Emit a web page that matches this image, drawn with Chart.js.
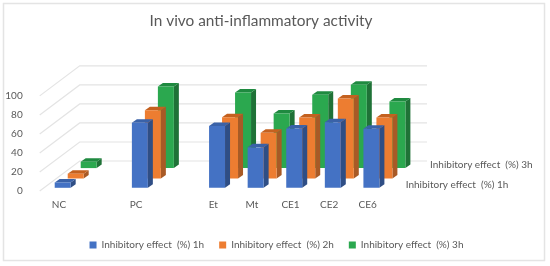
<!DOCTYPE html>
<html><head><meta charset="utf-8">
<style>html,body{margin:0;padding:0;background:#fff}#w{width:550px;height:266px}</style>
<script src="https://cdn.jsdelivr.net/npm/chart.js@4"></script>
</head><body><div id="w"><canvas id="c" width="550" height="266"></canvas></div>
<script>
const categories = ['NC','','PC','','Et','Mt','CE1','CE2','CE6'];
const series1h = [5.6,null,68.4,null,65,42.5,62.4,69,62];
const series2h = [5,null,71.7,null,64.5,48,64,84,64];
const series3h = [6.7,null,85.7,null,79.4,57.4,77,87.5,70];
const seriesNames = ['Inhibitory effect  (%) 1h','Inhibitory effect  (%) 2h','Inhibitory effect  (%) 3h'];
const yTicks = [0,20,40,60,80,100];

const TXT = '#595959', FONT = 'Lato';
const faces = [
  {front:'#4472C4', side:'#2F4E85', top:'#3A62A8', dx:3.7, dy:3.2},
  {front:'#ED7D31', side:'#A85A26', top:'#C4611F', dx:16.7, dy:12.5},
  {front:'#2BA84F', side:'#1F7237', top:'#1F8A40', dx:29.7, dy:22.9}
];
const depth = {x:5, y:3.5}, wall = {x:40, y:30};

const bars3d = {
  id:'bars3d',
  beforeDraw(chart){
    const {ctx,chartArea:a,scales:{y}} = chart;
    ctx.save();
    ctx.strokeStyle='#E4E4E4'; ctx.lineWidth=1.5;
    ctx.strokeRect(3.5,3.5,541,257);
    ctx.lineWidth=1.2;
    yTicks.forEach(t=>{
      const p=y.getPixelForValue(t);
      ctx.beginPath();
      ctx.moveTo(a.left,p);
      ctx.lineTo(a.left+wall.x,p-wall.y);
      ctx.lineTo(a.right+wall.x,p-wall.y);
      ctx.stroke();
    });
    ctx.restore();
  },
  afterLayout(chart){
    chart.titleBlock.right -= 28;
    chart.legend.top -= 6;
    chart.legend.left += 1.5;
    chart.legend.right += 1.5;
  },
  beforeDatasetDraw(chart,args){
    const f=faces[args.index], ctx=chart.ctx, vals=chart.data.datasets[args.index].data;
    ctx.save();
    ctx.translate(f.dx,-f.dy);
    chart.getDatasetMeta(args.index).data.forEach((el,i)=>{
      if(vals[i]===null) return;
      const l=el.x-el.width/2, r=el.x+el.width/2;
      ctx.fillStyle=f.side;
      ctx.beginPath();
      ctx.moveTo(r,el.y);ctx.lineTo(r+depth.x,el.y-depth.y);
      ctx.lineTo(r+depth.x,el.base-depth.y);ctx.lineTo(r,el.base);
      ctx.closePath();ctx.fill();
      ctx.fillStyle=f.top;
      ctx.beginPath();
      ctx.moveTo(l,el.y);ctx.lineTo(r,el.y);
      ctx.lineTo(r+depth.x,el.y-depth.y);ctx.lineTo(l+depth.x,el.y-depth.y);
      ctx.closePath();ctx.fill();
    });
  },
  afterDatasetDraw(chart){ chart.ctx.restore(); },
  afterDraw(chart){
    const {ctx,chartArea:a,scales:{y}}=chart, base=y.getPixelForValue(0);
    ctx.save();
    ctx.fillStyle=TXT; ctx.font='10px '+FONT; ctx.textBaseline='middle'; ctx.textAlign='left';
    ctx.fillText(seriesNames[0], a.right+18.7, base-6);
    ctx.fillText(seriesNames[2], a.right+43, base-26);
    ctx.restore();
  }
};

new Chart(document.getElementById('c'),{
  type:'bar',
  data:{labels:categories,datasets:[series1h,series2h,series3h].map((d,i)=>({
    label:seriesNames[i],data:d,backgroundColor:faces[i].front,grouped:false,
    barPercentage:0.414,categoryPercentage:1,clip:false,borderWidth:0
  }))},
  options:{
    responsive:false,animation:false,
    layout:{padding:0},
    plugins:{
      title:{display:true,text:'In vivo anti-inflammatory activity',color:TXT,
        font:{family:FONT,size:15.4,weight:'normal'},padding:{top:12,bottom:65.4}},
      legend:{position:'bottom',labels:{color:TXT,boxWidth:7,boxHeight:7,padding:15,
        font:{family:FONT,size:10}}},
      tooltip:{enabled:false}
    },
    scales:{
      x:{grid:{display:false},border:{display:false},
        ticks:{color:TXT,font:{family:FONT,size:10},padding:0,autoSkip:false,maxRotation:0},
        afterFit(s){s.height=40;}},
      y:{min:0,max:100,grid:{display:false},border:{display:false},
        ticks:{color:TXT,font:{family:FONT,size:10},padding:9,stepSize:20},
        afterFit(s){s.width=39.7;}},
      r0:{position:'right',display:true,grid:{display:false},border:{display:false},
        ticks:{display:false},afterFit(s){s.width=163;}}
    }
  },
  plugins:[bars3d]
});
</script></body></html>
